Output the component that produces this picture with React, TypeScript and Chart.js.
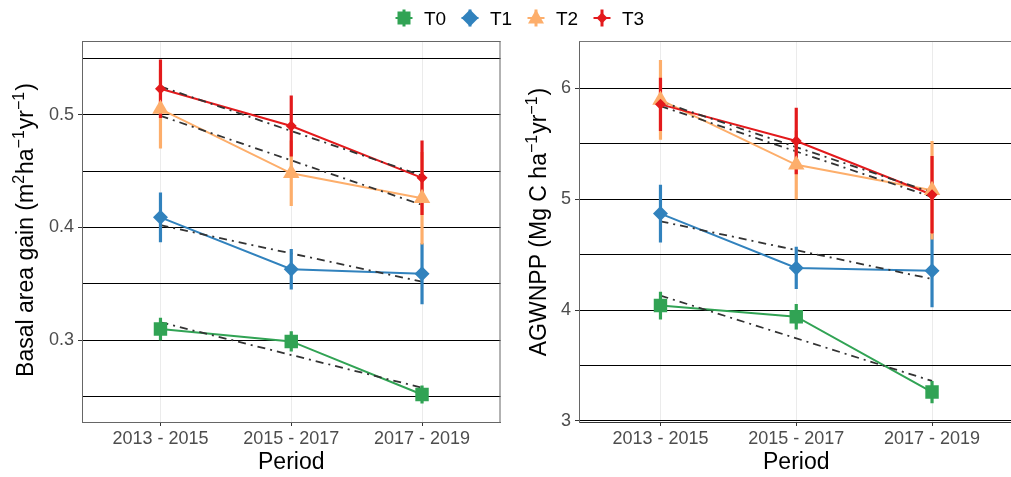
import React, { useEffect, useRef } from 'react';
import { Chart, registerables } from 'chart.js';

Chart.register(...registerables);

const FONT = "'Liberation Sans', Arial, sans-serif";
Chart.defaults.font.family = FONT;

// ---------- data ----------
const periods = ['2013 - 2015', '2015 - 2017', '2017 - 2019'];
const treatments = ['T0', 'T1', 'T2', 'T3'];
const colors = ['#31a354', '#3182bd', '#fdae6b', '#e31a1c'];

// Basal area gain (m2 ha-1 yr-1): means and half error-bar widths
const basalT0 = [0.310, 0.299, 0.252];
const basalT1 = [0.409, 0.363, 0.359];
const basalT2 = [0.505, 0.448, 0.426];
const basalT3 = [0.523, 0.490, 0.444];
const basalErrT0 = [0.010, 0.009, 0.008];
const basalErrT1 = [0.022, 0.018, 0.027];
const basalErrT2 = [0.035, 0.029, 0.041];
const basalErrT3 = [0.026, 0.027, 0.033];
// dot-dash trend lines: value at first and last period
const basalTrendStart = [0.316, 0.402, 0.499, 0.525];
const basalTrendEnd = [0.258, 0.352, 0.420, 0.446];
const basalTicks = [0.25, 0.3, 0.35, 0.4, 0.45, 0.5, 0.55];
const basalLabeled = [0.3, 0.4, 0.5];

// AGWNPP (Mg C ha-1 yr-1)
const agwT0 = [4.04, 3.94, 3.26];
const agwT1 = [4.87, 4.38, 4.355];
const agwT2 = [5.895, 5.31, 5.08];
const agwT3 = [5.855, 5.525, 5.04];
const agwErrT0 = [0.125, 0.115, 0.10];
const agwErrT1 = [0.26, 0.19, 0.33];
const agwErrT2 = [0.36, 0.31, 0.445];
const agwErrT3 = [0.24, 0.30, 0.35];
const agwTrendStart = [4.13, 4.80, 5.84, 5.88];
const agwTrendEnd = [3.36, 4.28, 5.02, 5.06];
const agwTicks = [3, 3.5, 4, 4.5, 5, 5.5, 6];
const agwLabeled = [3, 4, 5, 6];

type Seg = { text: string; sup?: boolean };
const basalTitle: Seg[] = [
  { text: 'Basal area gain (m' }, { text: '2', sup: true }, { text: 'ha' },
  { text: '\u22121', sup: true }, { text: 'yr' }, { text: '\u22121', sup: true }, { text: ')' },
];
const agwTitle: Seg[] = [
  { text: 'AGWNPP (Mg C ha' }, { text: '\u22121', sup: true }, { text: 'yr' },
  { text: '\u22121', sup: true }, { text: ')' },
];

// ---------- plugins ----------
const framePlugin = {
  id: 'frame',
  afterDatasetsDraw(chart: any, _a: any, opts: any) {
    const { ctx, chartArea: a } = chart;
    ctx.save();
    ctx.strokeStyle = opts.color;
    ctx.lineWidth = opts.width;
    ctx.beginPath();
    if (opts.top) { ctx.moveTo(a.left, a.top + 0.5); ctx.lineTo(a.right, a.top + 0.5); }
    if (opts.right) { ctx.moveTo(a.right - 0.5, a.top); ctx.lineTo(a.right - 0.5, a.bottom); }
    ctx.stroke();
    ctx.restore();
  },
};

const richTitlePlugin = {
  id: 'richTitle',
  afterDraw(chart: any, _a: any, opts: any) {
    const { ctx } = chart;
    const segs: Seg[] = opts.segments || [];
    const main = `${opts.size}px ${FONT}`;
    const sup = `${opts.supSize}px ${FONT}`;
    ctx.save();
    let total = 0;
    const widths = segs.map((s) => {
      ctx.font = s.sup ? sup : main;
      const w = ctx.measureText(s.text).width + (s.sup ? 1 : 0);
      total += w;
      return w;
    });
    ctx.translate(opts.x, opts.cy);
    ctx.rotate(-Math.PI / 2);
    ctx.fillStyle = '#000';
    ctx.textBaseline = 'alphabetic';
    ctx.textAlign = 'left';
    let x = -total / 2;
    segs.forEach((s, i) => {
      ctx.font = s.sup ? sup : main;
      ctx.fillText(s.text, x, s.sup ? -opts.raise : 0);
      x += widths[i];
    });
    ctx.restore();
  },
};

// ---------- config ----------
type Spec = {
  means: number[][];
  errs: number[][];
  trendStart: number[];
  trendEnd: number[];
  yMin: number;
  yMax: number;
  yTicks: number[];
  yLabeled: number[];
  yDigits: number;
  yAxisWidth: number;
  padRight: number;
  title: Seg[];
  titleX: number;
  titleCy: number;
  frame: any;
  xBorder: string;
};

const pointStyles = ['rect', 'rectRot', 'triangle', 'rectRot'];
const pointRadii = [9.5, 7.5, 9.5, 5.5];

function buildConfig(s: Spec): any {
  const datasets: any[] = [];
  treatments.forEach((t, i) => {
    datasets.push({
      label: t + ' line',
      data: s.means[i].map((v, j) => ({ x: j, y: v })),
      borderColor: colors[i],
      borderWidth: 2,
      pointRadius: 0,
      order: 20 - i,
    });
    datasets.push({
      label: t + ' trend',
      data: [{ x: 0, y: s.trendStart[i] }, { x: periods.length - 1, y: s.trendEnd[i] }],
      borderColor: '#333333',
      borderWidth: 1.8,
      borderDash: [8, 5, 2, 5],
      pointRadius: 0,
      order: 16 - i,
    });
    const eb: any[] = [];
    s.means[i].forEach((v, j) => {
      eb.push({ x: j, y: v - s.errs[i][j] }, { x: j, y: v + s.errs[i][j] }, { x: j, y: null });
    });
    datasets.push({
      label: t + ' err',
      data: eb,
      borderColor: colors[i],
      borderWidth: 3.2,
      borderCapStyle: 'butt',
      pointRadius: 0,
      spanGaps: false,
      order: 12 - i,
    });
    datasets.push({
      label: t,
      data: s.means[i].map((v, j) => ({ x: j, y: v })),
      showLine: false,
      pointStyle: pointStyles[i],
      pointRadius: pointRadii[i],
      pointBackgroundColor: colors[i],
      pointBorderColor: colors[i],
      pointBorderWidth: 0,
      order: 8 - i,
    });
  });

  const isLabeled = (v: number) => s.yLabeled.some((l) => Math.abs(l - v) < 1e-9);

  return {
    type: 'line',
    data: { datasets },
    plugins: [framePlugin, richTitlePlugin],
    options: {
      animation: false,
      responsive: false,
      maintainAspectRatio: false,
      events: [],
      layout: { padding: { left: 0, right: s.padRight, top: 41, bottom: 0 } },
      plugins: {
        legend: { display: false },
        tooltip: { enabled: false },
        frame: s.frame,
        richTitle: { segments: s.title, x: s.titleX, cy: s.titleCy, size: 23, supSize: 16, raise: 9 },
      },
      scales: {
        x: {
          type: 'linear',
          min: -0.6,
          max: periods.length - 1 + 0.6,
          afterBuildTicks: (ax: any) => { ax.ticks = periods.map((_, j) => ({ value: j })); },
          afterFit: (sc: any) => { sc.height = 55; },
          ticks: {
            autoSkip: false,
            maxRotation: 0,
            callback: (v: any) => periods[v] ?? '',
            font: { size: 18, family: FONT },
            color: '#4d4d4d',
            padding: 2,
          },
          grid: { color: '#ebebeb', lineWidth: 1, tickLength: 4, tickColor: '#333333', drawTicks: true },
          border: { display: true, color: s.xBorder, width: 1 },
          title: {
            display: true,
            text: 'Period',
            font: { size: 23, family: FONT },
            color: '#000000',
            padding: { top: 0, bottom: 1 },
          },
        },
        y: {
          type: 'linear',
          min: s.yMin,
          max: s.yMax,
          afterBuildTicks: (ax: any) => { ax.ticks = s.yTicks.map((v) => ({ value: v })); },
          afterFit: (sc: any) => { sc.width = s.yAxisWidth; },
          ticks: {
            autoSkip: false,
            callback: (v: any) => (isLabeled(v) ? Number(v).toFixed(s.yDigits) : ''),
            font: { size: 18, family: FONT },
            color: '#4d4d4d',
            padding: 4,
          },
          grid: {
            color: '#000000',
            lineWidth: 1,
            tickLength: 4,
            tickColor: (ctx: any) => (ctx.tick && isLabeled(ctx.tick.value) ? '#333333' : 'rgba(0,0,0,0)'),
          },
          border: { display: true, color: '#666666', width: 1 },
        },
      },
    },
  };
}

const basalSpec: Spec = {
  means: [basalT0, basalT1, basalT2, basalT3],
  errs: [basalErrT0, basalErrT1, basalErrT2, basalErrT3],
  trendStart: basalTrendStart,
  trendEnd: basalTrendEnd,
  yMin: 0.2276,
  yMax: 0.5653,
  yTicks: basalTicks,
  yLabeled: basalLabeled,
  yDigits: 1,
  yAxisWidth: 82,
  padRight: 1,
  title: basalTitle,
  titleX: 33,
  titleCy: 230,
  frame: { top: true, right: true, color: '#666666', width: 1 },
  xBorder: '#666666',
};

const agwSpec: Spec = {
  means: [agwT0, agwT1, agwT2, agwT3],
  errs: [agwErrT0, agwErrT1, agwErrT2, agwErrT3],
  trendStart: agwTrendStart,
  trendEnd: agwTrendEnd,
  yMin: 2.99,
  yMax: 6.4265,
  yTicks: agwTicks,
  yLabeled: agwLabeled,
  yDigits: 0,
  yAxisWidth: 69,
  padRight: 2,
  title: agwTitle,
  titleX: 36,
  titleCy: 222,
  frame: { top: true, right: false, color: '#777777', width: 1 },
  xBorder: '#333333',
};

function Panel({ spec, left, width }: { spec: Spec; left: number; width: number }) {
  const ref = useRef<HTMLCanvasElement>(null);
  useEffect(() => {
    const chart = new Chart(ref.current as HTMLCanvasElement, buildConfig(spec));
    return () => chart.destroy();
  }, [spec]);
  return (
    <canvas
      ref={ref}
      width={width}
      height={477}
      style={{ position: 'absolute', left, top: 0, width, height: 477 }}
    />
  );
}

function LegendIcon({ i }: { i: number }) {
  const c = colors[i];
  let shape: React.ReactNode = null;
  if (i === 0) shape = <rect x={4.5} y={4.5} width={13} height={13} fill={c} />;
  if (i === 1) shape = <polygon points="11,2.5 19.5,11 11,19.5 2.5,11" fill={c} />;
  if (i === 2) shape = <polygon points="11,2.5 19,16.5 3,16.5" fill={c} />;
  if (i === 3) shape = <polygon points="11,5.5 16.5,11 11,16.5 5.5,11" fill={c} />;
  return (
    <svg width={22} height={22} style={{ position: 'absolute', left: 0, top: 0 }}>
      <line x1={2.5} y1={11} x2={19.5} y2={11} stroke={c} strokeWidth={2} />
      <line x1={11} y1={2.5} x2={11} y2={19.5} stroke={c} strokeWidth={3} />
      {shape}
    </svg>
  );
}

export default function App() {
  return (
    <div
      style={{
        position: 'absolute',
        left: 0,
        top: 0,
        width: 1011,
        height: 477,
        overflow: 'hidden',
        background: '#ffffff',
      }}
    >
      <Panel spec={basalSpec} left={0} width={510} />
      <Panel spec={agwSpec} left={510} width={513} />
      {treatments.map((t, i) => (
        <div key={t} style={{ position: 'absolute', left: 393 + i * 66, top: 6.5, height: 22, width: 60 }}>
          <LegendIcon i={i} />
          <span
            style={{
              position: 'absolute',
              left: 31,
              top: 1,
              fontFamily: FONT,
              fontSize: 19,
              lineHeight: '22px',
              color: '#000',
              whiteSpace: 'nowrap',
            }}
          >
            {t}
          </span>
        </div>
      ))}
    </div>
  );
}
